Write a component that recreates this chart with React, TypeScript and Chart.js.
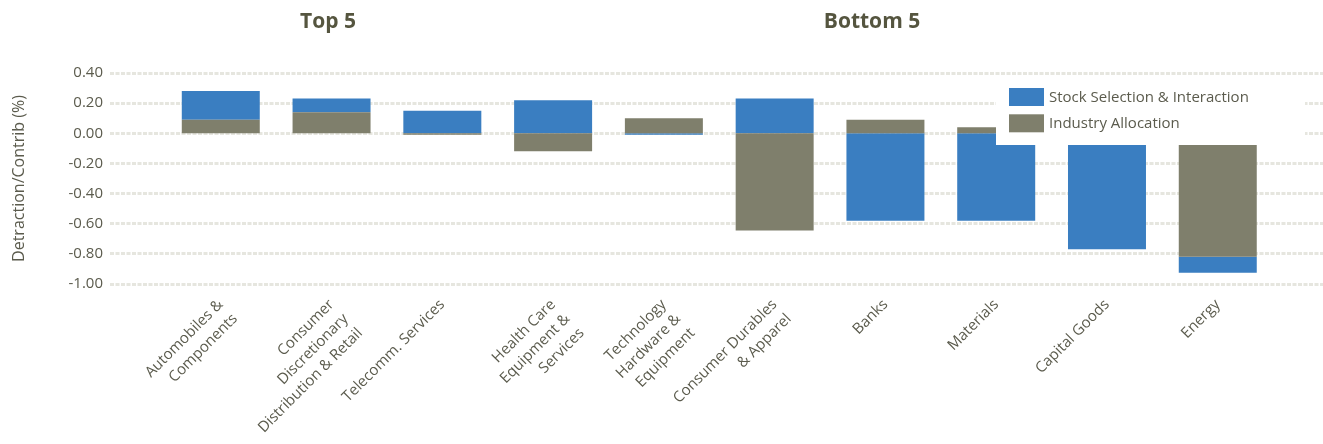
import React, { useEffect, useRef } from 'react';
import { Chart, registerables } from 'chart.js';

Chart.register(...registerables);

// ---- data ----
const categories: (string | string[])[] = [
  ['Automobiles &', 'Components'],
  ['Consumer', 'Discretionary', 'Distribution & Retail'],
  'Telecomm. Services',
  ['Health Care', 'Equipment &', 'Services'],
  ['Technology', 'Hardware &', 'Equipment'],
  ['Consumer Durables', '& Apparel'],
  'Banks',
  'Materials',
  'Capital Goods',
  'Energy',
];
const industryAllocation = [0.09, 0.14, -0.01, -0.12, 0.1, -0.645, 0.09, 0.04, 0.03, -0.82];
const stockSelection = [0.19, 0.09, 0.15, 0.22, -0.01, 0.23, -0.58, -0.58, -0.77, -0.105];
const seriesNames = ['Industry Allocation', 'Stock Selection & Interaction'];
const groupTitles = ['Top 5', 'Bottom 5'];
const yAxisTitle = 'Detraction/Contrib (%)';

const BLUE = '#3a7ec1';
const GRAY = '#7f7f6c';
const TEXT = '#5b5b4d';
const TITLE = '#55553f';
const GRID = '#e6e6df';
const FONT = '"Open Sans", sans-serif';

const boxLegend = {
  id: 'boxLegend',
  afterDatasetsDraw(chart: any) {
    const { ctx, chartArea } = chart;
    const boxX = chartArea.right - 327;
    const boxY = chartArea.top + 5;
    ctx.save();
    ctx.fillStyle = '#ffffff';
    ctx.fillRect(boxX, boxY, 309, 67);
    const items = [...chart.data.datasets].reverse();
    items.forEach((ds: any, i: number) => {
      const sy = boxY + 10 + i * 26.3;
      ctx.fillStyle = ds.backgroundColor;
      ctx.fillRect(boxX + 13, sy, 35, 18);
      ctx.fillStyle = TEXT;
      ctx.font = '15px ' + FONT;
      ctx.textBaseline = 'middle';
      ctx.textAlign = 'left';
      ctx.fillText(ds.label, boxX + 53, sy + 9.5);
    });
    ctx.restore();
  },
};

export default function App() {
  const canvasRef = useRef<HTMLCanvasElement | null>(null);

  useEffect(() => {
    if (!canvasRef.current) return;
    const chart = new Chart(canvasRef.current, {
      type: 'bar',
      data: {
        datasets: [
          {
            label: seriesNames[0],
            data: industryAllocation.map((v, i) => ({ x: i, y: v })),
            backgroundColor: GRAY,
            borderWidth: 0,
            barPercentage: 0.704,
            categoryPercentage: 1,
          },
          {
            label: seriesNames[1],
            data: stockSelection.map((v, i) => ({ x: i, y: v })),
            backgroundColor: BLUE,
            borderWidth: 0,
            barPercentage: 0.704,
            categoryPercentage: 1,
          },
        ],
      },
      options: {
        animation: false,
        responsive: true,
        maintainAspectRatio: false,
        layout: { padding: { top: 73, left: 0, right: 0, bottom: 0 } },
        plugins: {
          legend: { display: false },
          tooltip: { enabled: false },
        },
        scales: {
          x: {
            type: 'linear',
            stacked: true,
            offset: false,
            min: -1,
            max: 9.95,
            grid: { display: false, drawTicks: false, offset: false },
            border: { display: false },
            afterBuildTicks: (axis: any) => {
              axis.ticks = categories.map((_, i) => ({ value: i }));
            },
            afterFit: (scale: any) => {
              scale.height = 160;
            },
            ticks: {
              autoSkip: false,
              minRotation: 45,
              maxRotation: 45,
              padding: 11,
              color: TEXT,
              font: { family: FONT, size: 15, lineHeight: 1.35 },
              callback: (v: any) => categories[v as number] ?? '',
            },
          },
          y: {
            stacked: true,
            min: -1,
            max: 0.4,
            afterFit: (scale: any) => {
              scale.width = 110;
            },
            grid: { color: GRID, lineWidth: 3, drawTicks: false },
            border: { display: false, dash: [4, 1.5] },
            ticks: {
              stepSize: 0.2,
              padding: 7,
              color: TEXT,
              font: { family: FONT, size: 15 },
              callback: (v: any) => (Math.abs(v) < 1e-9 ? '0.00' : Number(v).toFixed(2)),
            },
            title: {
              display: true,
              text: yAxisTitle,
              color: TEXT,
              font: { family: FONT, size: 16 },
              padding: { top: 10, bottom: 0 },
            },
          },
        },
      } as any,
      plugins: [boxLegend],
    });
    return () => chart.destroy();
  }, []);

  const titleStyle: React.CSSProperties = {
    position: 'absolute',
    top: 6,
    transform: 'translateX(-50%)',
    fontFamily: FONT,
    fontWeight: 700,
    fontSize: 21,
    color: TITLE,
    whiteSpace: 'nowrap',
  };

  return (
    <div style={{ position: 'absolute', left: 0, top: 0, width: 1323, height: 444, background: '#fff' }}>
      <canvas ref={canvasRef} />
      <div style={{ ...titleStyle, left: 328 }}>{groupTitles[0]}</div>
      <div style={{ ...titleStyle, left: 872 }}>{groupTitles[1]}</div>
    </div>
  );
}
